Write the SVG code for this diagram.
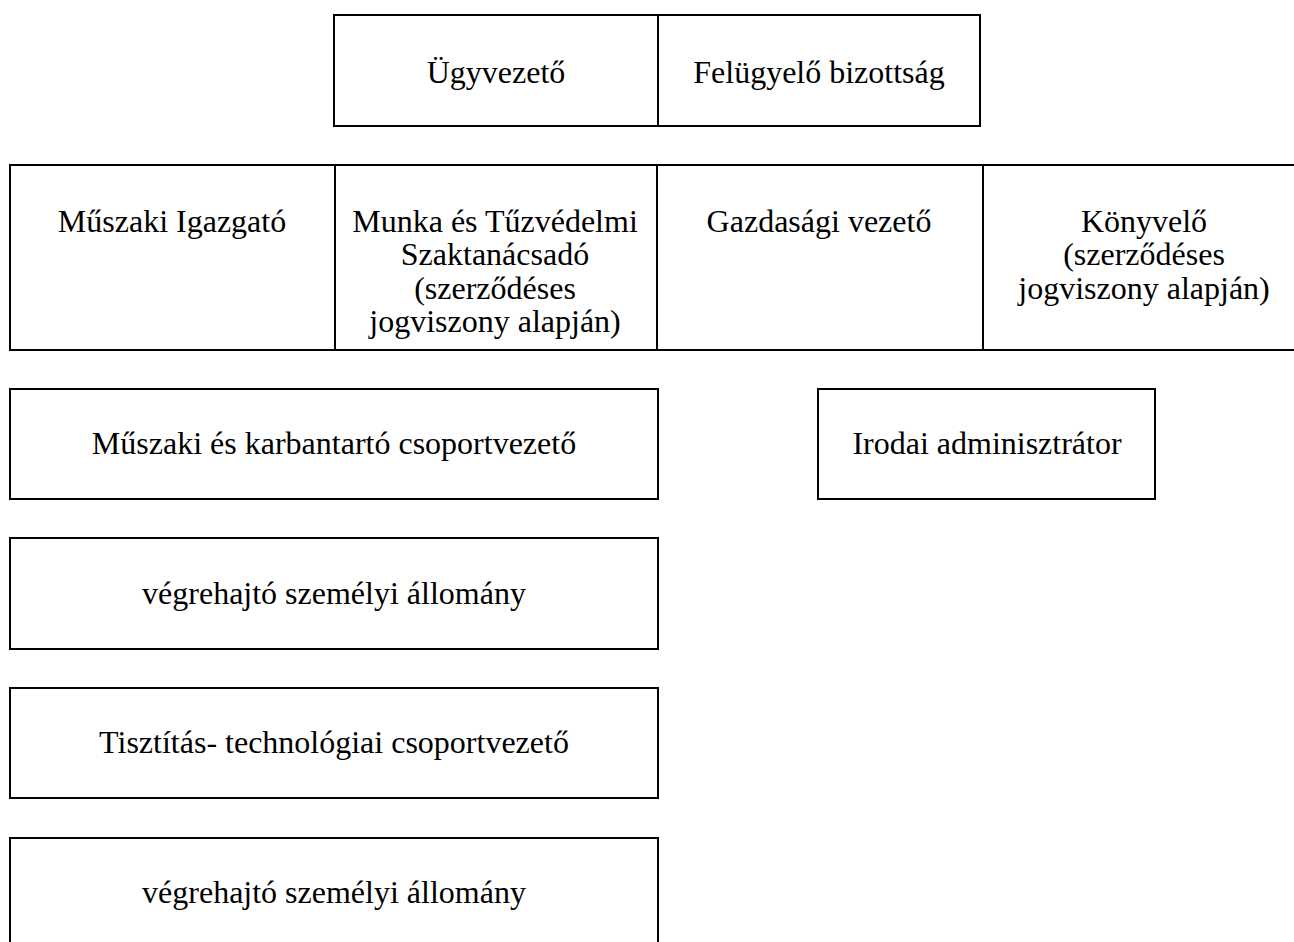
<svg xmlns="http://www.w3.org/2000/svg" width="1294" height="942" viewBox="0 0 1294 942">
<style>
.box{fill:#fff;stroke:#000;stroke-width:2}
.t{font-family:"Liberation Serif","Times New Roman",serif;font-size:32px;fill:#000;text-anchor:middle}
</style>
<rect width="1294" height="942" fill="#fff"/>
<g id="connectors"></g>
<g id="ugyvezeto"><rect class="box" x="334" y="15" width="324" height="111"/><text class="t" x="496" y="83">Ügyvezető</text></g>
<g id="felugyelo"><rect class="box" x="658" y="15" width="322" height="111"/><text class="t" x="819" y="83">Felügyelő bizottság</text></g>
<g id="muszaki-igazgato"><rect class="box" x="10" y="165" width="325" height="185"/><text class="t" x="172" y="232">Műszaki Igazgató</text></g>
<g id="munka-tuzvedelmi"><rect class="box" x="335" y="165" width="322" height="185"/><text class="t" x="495" y="232">Munka és Tűzvédelmi<tspan x="495" dy="33.3">Szaktanácsadó</tspan><tspan x="495" dy="33.3">(szerződéses</tspan><tspan x="495" dy="33.3">jogviszony alapján)</tspan></text></g>
<g id="gazdasagi"><rect class="box" x="657" y="165" width="326" height="185"/><text class="t" x="819" y="232">Gazdasági vezető</text></g>
<g id="konyvelo"><rect class="box" x="983" y="165" width="330" height="185"/><text class="t" x="1144" y="232">Könyvelő<tspan x="1144" dy="33.3">(szerződéses</tspan><tspan x="1144" dy="33.3">jogviszony alapján)</tspan></text></g>
<g id="muszaki-karbantarto"><rect class="box" x="10" y="389" width="648" height="110"/><text class="t" x="334" y="454">Műszaki és karbantartó csoportvezető</text></g>
<g id="irodai"><rect class="box" x="818" y="389" width="337" height="110"/><text class="t" x="987" y="454">Irodai adminisztrátor</text></g>
<g id="vegrehajto1"><rect class="box" x="10" y="538" width="648" height="111"/><text class="t" x="334" y="604">végrehajtó személyi állomány</text></g>
<g id="tisztitas"><rect class="box" x="10" y="688" width="648" height="110"/><text class="t" x="334" y="753">Tisztítás- technológiai csoportvezető</text></g>
<g id="vegrehajto2"><rect class="box" x="10" y="838" width="648" height="120"/><text class="t" x="334" y="903">végrehajtó személyi állomány</text></g>
</svg>
